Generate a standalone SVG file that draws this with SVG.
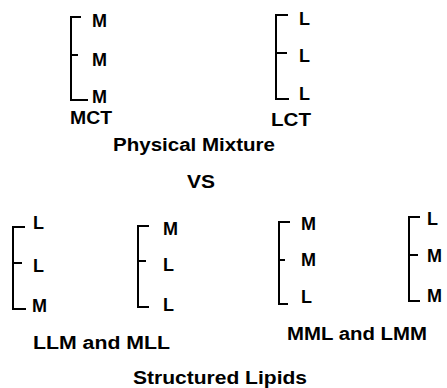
<svg xmlns="http://www.w3.org/2000/svg" width="447" height="388" viewBox="0 0 447 388">
<style>
.b{fill:none;stroke:#000;stroke-width:2;stroke-linecap:square}
.t{font-family:"Liberation Sans",Arial,sans-serif;font-weight:bold;font-size:18px;fill:#000}
</style>
<rect width="447" height="388" fill="#fff"/>
<g id="mct">
<path class="b" d="M80,17H71V100H87M71,55H77"/>
<text class="t" x="92" y="27">M</text>
<text class="t" x="92" y="66">M</text>
<text class="t" x="92" y="103">M</text>
<text class="t" x="70" y="124" textLength="42" lengthAdjust="spacingAndGlyphs">MCT</text>
</g>
<g id="lct">
<path class="b" d="M287,15H276V99H288M276,53H286"/>
<text class="t" x="299" y="25">L</text>
<text class="t" x="299" y="62">L</text>
<text class="t" x="299" y="100">L</text>
<text class="t" x="271" y="126" textLength="40" lengthAdjust="spacingAndGlyphs">LCT</text>
</g>
<g id="physical-mixture">
<text class="t" x="113" y="151" textLength="162" lengthAdjust="spacingAndGlyphs">Physical Mixture</text>
</g>
<g id="vs">
<text class="t" x="187" y="188" textLength="28" lengthAdjust="spacingAndGlyphs">VS</text>
</g>
<g id="llm">
<path class="b" d="M24,227H13V309H25M13,263H21"/>
<text class="t" x="33" y="229">L</text>
<text class="t" x="33" y="272">L</text>
<text class="t" x="32" y="312">M</text>
</g>
<g id="mll">
<path class="b" d="M148,226H138V307H148M138,261H145"/>
<text class="t" x="163" y="235">M</text>
<text class="t" x="163" y="271">L</text>
<text class="t" x="163" y="311">L</text>
</g>
<g id="mml">
<path class="b" d="M289,222H279V304H287M279,260H284"/>
<text class="t" x="301" y="230">M</text>
<text class="t" x="301" y="266">M</text>
<text class="t" x="301" y="303">L</text>
</g>
<g id="lmm">
<path class="b" d="M419,217H409V301H419M409,255H417"/>
<text class="t" x="427" y="225">L</text>
<text class="t" x="427" y="262">M</text>
<text class="t" x="427" y="302">M</text>
</g>
<g id="label-llm-mll">
<text class="t" x="33" y="349" textLength="137" lengthAdjust="spacingAndGlyphs">LLM and MLL</text>
</g>
<g id="label-mml-lmm">
<text class="t" x="287" y="340" textLength="140" lengthAdjust="spacingAndGlyphs">MML and LMM</text>
</g>
<g id="structured-lipids">
<text class="t" x="133" y="384" textLength="174" lengthAdjust="spacingAndGlyphs">Structured Lipids</text>
</g>
<g id="connectors"/>
</svg>
